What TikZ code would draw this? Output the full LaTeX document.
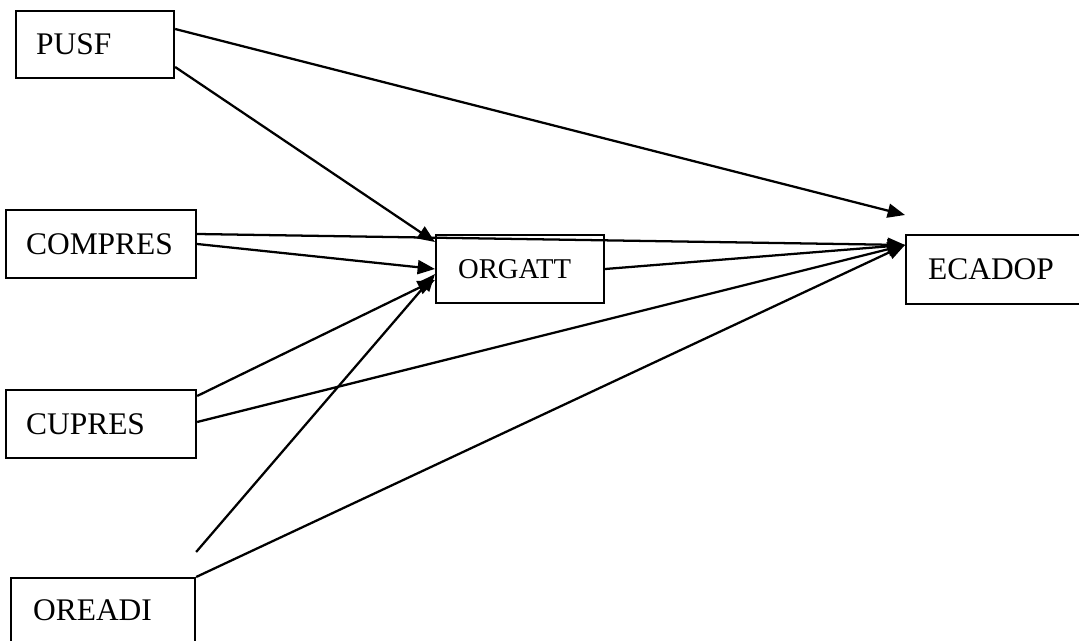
\documentclass[tikz,border=0pt]{standalone}
\usepackage{fontspec}
\setmainfont{Liberation Serif}
\usetikzlibrary{arrows.meta,calc}

\tikzset{
  box/.style={draw, line width=1.6pt, anchor=north west, inner xsep=15pt,
    inner ysep=0pt, align=left, font=\fontsize{23.6}{28}\selectfont},
  link/.style={line width=1.7pt, -{Triangle[length=13pt,width=10.5pt]}}
}

\begin{document}
\begin{tikzpicture}[x=0.75pt,y=-0.75pt]
  \useasboundingbox (0,0) rectangle (1079,641);
  \clip (0,0) rectangle (1079,641);

  % boxes
  \node[box, text width=88.5pt, minimum height=50.25pt] (pusf) at (15,10) {PUSF};
  \node[box, text width=112.5pt, minimum height=51pt] (compres) at (5,209) {COMPRES};
  \node[box, text width=112.5pt, minimum height=51pt] (cupres) at (5,389) {CUPRES};
  \node[box, text width=105pt, inner xsep=16.5pt, inner ysep=15pt,
        text height=16.5pt, text depth=40pt] (oreadi) at (10,577) {OREADI};
  \node[box, text width=93pt, inner xsep=16.5pt, minimum height=51pt,
        font=\fontsize{21.5}{26}\selectfont] (orgatt) at (435,234) {ORGATT};
  \node[box, text width=250pt, inner xsep=16.5pt, minimum height=51.75pt] (ecadop) at (905,234) {ECADOP};

  % arrow targets
  \coordinate (eIn) at ($(ecadop.north west)+(0,11)$);
  \coordinate (eFree) at ($(ecadop.north west)+(0,-19)$);
  \coordinate (oTop) at ($(orgatt.north west)+(0,8)$);
  \coordinate (oMid) at ($(orgatt.north west)+(0,35)$);
  \coordinate (oLow) at ($(orgatt.north west)+(0,40)$);
  \coordinate (oLow2) at ($(orgatt.north west)+(0,46)$);
  \coordinate (oreadiFree) at ($(oreadi.north east)+(0,-25)$);

  % connectors
  \draw[link] ($(pusf.north east)+(0,19)$) -- (eFree);
  \draw[link] ($(pusf.north east)+(0,57)$) -- (oTop);
  \draw[link] ($(compres.north east)+(0,25)$) -- (eIn);
  \draw[link] ($(compres.north east)+(0,35)$) -- (oMid);
  \draw[link] ($(cupres.north east)+(0,7)$) -- (oLow2);
  \draw[link] ($(cupres.north east)+(0,33)$) -- (eIn);
  \draw[link] (oreadiFree) -- (oLow);
  \draw[link] (oreadi.north east) -- (eIn);
  \draw[link] ($(orgatt.north east)+(0,35)$) -- (eIn);
\end{tikzpicture}
\end{document}
